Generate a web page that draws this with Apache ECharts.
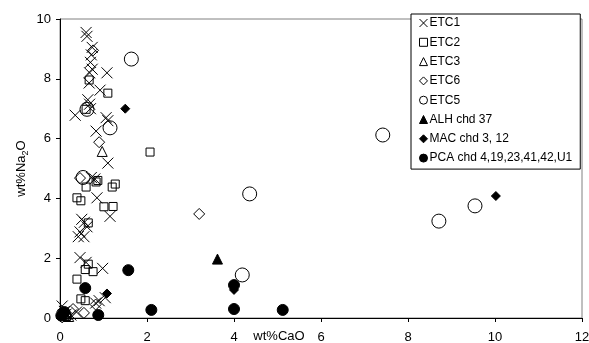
<!DOCTYPE html>
<html>
<head>
<meta charset="utf-8">
<script src="https://cdn.jsdelivr.net/npm/echarts@6/dist/echarts.min.js"></script>
<style>
  html, body { margin: 0; padding: 0; background: #fff; }
  #chart { width: 589px; height: 343px; }
</style>
</head>
<body>
<div id="chart"></div>
<script>
// wt% CaO (x), wt% Na2O (y)
const etc1 = [
  [0.6, 9.55], [0.62, 9.42], [0.74, 9.05], [0.72, 8.8], [0.7, 8.55], [0.74, 8.32], [0.68, 8.2],
  [1.08, 8.2], [0.67, 7.86], [0.92, 7.62], [0.64, 7.3], [0.68, 7.15], [0.7, 7.0], [0.35, 6.78],
  [1.06, 6.7], [1.1, 6.6], [0.83, 6.25], [1.1, 5.18], [0.72, 4.7], [0.8, 4.65], [0.85, 4.02],
  [1.15, 3.4], [0.5, 3.3], [0.56, 3.2], [0.62, 3.05], [0.46, 2.88], [0.42, 2.72], [0.55, 2.72],
  [0.46, 2.02], [0.6, 1.86], [0.98, 1.66], [1.04, 0.68], [0.82, 0.5], [0.9, 0.58], [0.38, 0.2],
  [0.14, 0.13], [0.05, 0.4], [0.1, 0.22], [0.25, 0.1]
]
const etc2 = [
  [0.67, 7.96], [1.1, 7.52], [0.6, 6.98], [2.07, 5.55], [0.83, 4.55], [0.87, 4.6], [0.6, 4.38],
  [1.2, 4.38], [1.27, 4.48], [0.39, 4.02], [0.48, 3.92], [1.01, 3.72], [1.22, 3.73], [0.65, 3.18],
  [0.65, 1.8], [0.58, 1.62], [0.76, 1.55], [0.39, 1.3], [0.48, 0.64], [0.58, 0.58], [0.05, 0.15],
  [0.15, 0.05]
]
const etc3 = [[0.97, 5.57], [0.1, 0.1], [0.2, 0.05]]
const etc6 = [
  [0.76, 8.95], [0.9, 5.88], [0.46, 4.68], [3.2, 3.48], [0.55, 0.17], [0.82, 0.45], [0.05, 0.02],
  [0.15, 0.08], [0.3, 0.3]
]
const etc5 = [
  [1.64, 8.66], [1.15, 6.36], [0.62, 6.98], [0.53, 4.7], [4.36, 4.15], [4.19, 1.44], [7.42, 6.12],
  [8.71, 3.24], [9.54, 3.75]
]
const alh = [[3.62, 1.97]]
const mac = [[1.5, 7.0], [10.02, 4.08], [4.0, 0.94], [1.08, 0.82], [0.1, 0.15]]
const pca = [
  [1.57, 1.6], [2.1, 0.27], [4.0, 0.3], [4.0, 1.1], [5.12, 0.27], [0.58, 1.0], [0.88, 0.1],
  [0.03, 0.08], [0.1, 0.2]
]

const names = ['ETC1', 'ETC2', 'ETC3', 'ETC6', 'ETC5', 'ALH chd 37', 'MAC chd 3, 12', 'PCA chd 4,19,23,41,42,U1']

const cross = 'path://M0,0L10,10M10,0L0,10'
const hollow = {color: 'transparent', borderColor: '#000', borderWidth: 1, opacity: 1}
const solid = {color: '#000', borderColor: '#000', borderWidth: 1, opacity: 1}

function scatter (name, data, symbol, size, style) {
  return {
    name: name,
    type: 'scatter',
    data: data,
    symbol: symbol,
    symbolSize: size,
    itemStyle: style,
    emphasis: {disabled: true}
  }
}

const chart = echarts.init(document.getElementById('chart'))
chart.setOption({
  animation: false,
  textStyle: {fontFamily: 'Liberation Sans, Arial, sans-serif'},
  grid: {
    left: 60, right: 7, top: 19, bottom: 25,
    outerBoundsMode: 'none',
    containLabel: false,
    show: true, borderColor: '#808080', borderWidth: 1
  },
  legend: {
    orient: 'vertical',
    left: 411,
    top: 14,
    padding: [2, 8, 4, 8],
    itemGap: 5.3,
    itemWidth: 8,
    itemHeight: 8,
    backgroundColor: '#fff',
    borderColor: '#000',
    borderWidth: 1,
    data: names,
    itemStyle: {borderWidth: 1},
    textStyle: {fontSize: 12, color: '#000', lineHeight: 14, padding: [0, 0, 0, -3]}
  },
  xAxis: {
    type: 'value',
    min: 0, max: 12, interval: 2,
    name: 'wt%CaO',
    nameLocation: 'middle',
    nameGap: 12,
    nameMoveOverlap: false,
    nameTextStyle: {fontSize: 13, color: '#000', verticalAlign: 'top', padding: [0, 84, 0, 0]},
    axisLine: {lineStyle: {color: '#000'}},
    axisTick: {inside: false, length: 4, lineStyle: {color: '#000'}},
    axisLabel: {fontSize: 13, color: '#000', margin: 13},
    splitLine: {show: false}
  },
  yAxis: {
    type: 'value',
    min: 0, max: 10, interval: 2,
    name: 'wt%Na{sub|2}O',
    nameLocation: 'middle',
    nameGap: 32,
    nameMoveOverlap: false,
    nameTextStyle: {
      fontSize: 13, color: '#000',
      rich: {sub: {fontSize: 9, color: '#000', verticalAlign: 'bottom', padding: [0, 0, -2, 0]}}
    },
    axisLine: {lineStyle: {color: '#000'}},
    axisTick: {inside: false, length: 4, lineStyle: {color: '#000'}},
    axisLabel: {fontSize: 13, color: '#000', margin: 9},
    splitLine: {show: false}
  },
  series: [
    scatter(names[0], etc1, cross, 11, hollow),
    scatter(names[1], etc2, 'rect', 8, hollow),
    scatter(names[2], etc3, 'triangle', 10, hollow),
    scatter(names[3], etc6, 'diamond', 11, hollow),
    scatter(names[4], etc5, 'circle', 14, hollow),
    scatter(names[5], alh, 'triangle', 10, solid),
    scatter(names[6], mac, 'diamond', 9, solid),
    scatter(names[7], pca, 'circle', 11, solid)
  ]
})
</script>
</body>
</html>
